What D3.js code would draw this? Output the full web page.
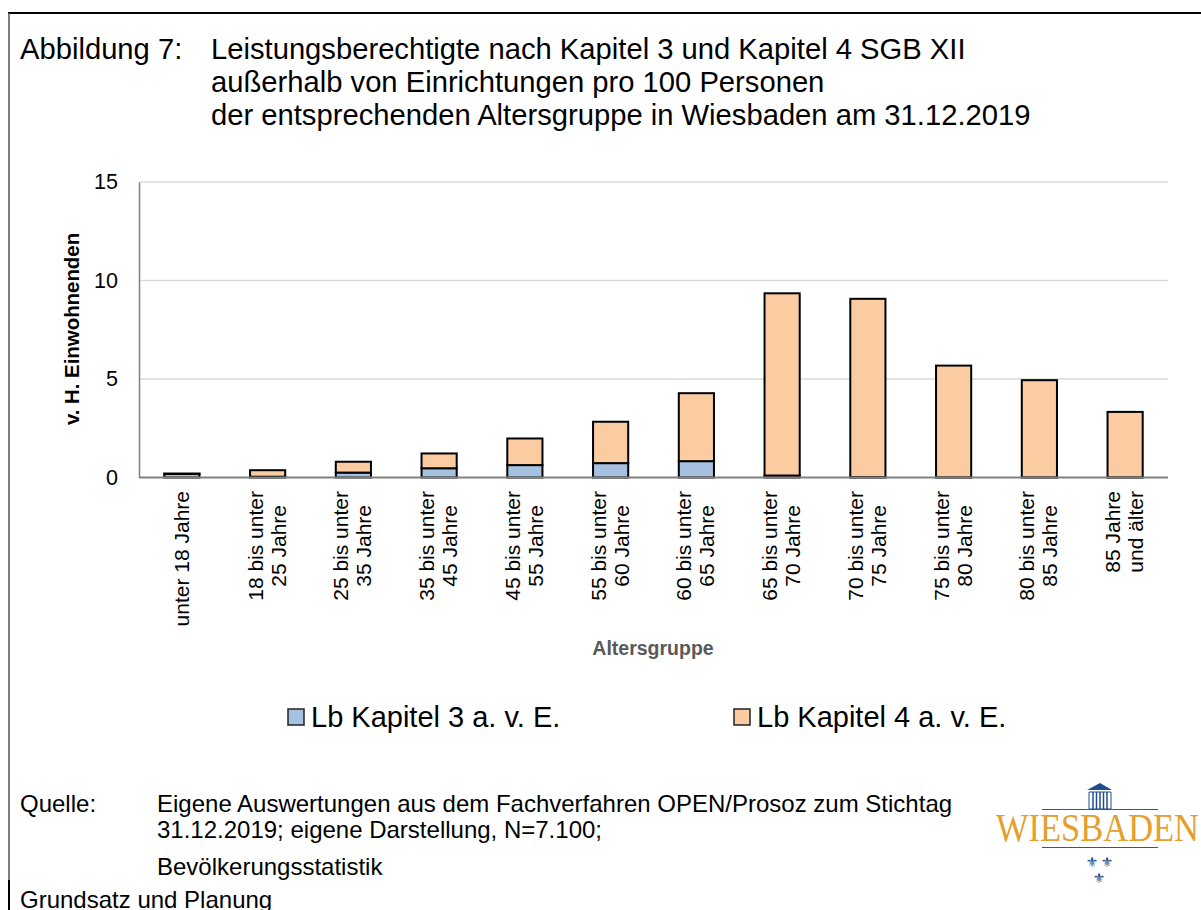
<!DOCTYPE html>
<html><head><meta charset="utf-8">
<script src="https://cdn.jsdelivr.net/npm/d3@7"></script>
<style>html,body{margin:0;background:#fff}svg{display:block}text{font-family:"Liberation Sans",Arial,sans-serif;fill:#000}</style>
</head><body><div id="c"></div>
<script>
const categories=[["unter 18 Jahre"],["18 bis unter","25 Jahre"],["25 bis unter","35 Jahre"],["35 bis unter","45 Jahre"],["45 bis unter","55 Jahre"],["55 bis unter","60 Jahre"],["60 bis unter","65 Jahre"],["65 bis unter","70 Jahre"],["70 bis unter","75 Jahre"],["75 bis unter","80 Jahre"],["80 bis unter","85 Jahre"],["85 Jahre","und älter"]];
const kapitel3=[0.18,0.04,0.25,0.47,0.63,0.73,0.83,0.1,0.02,0.01,0.01,0.01];
const kapitel4=[0.02,0.33,0.55,0.75,1.35,2.1,3.45,9.25,9.05,5.67,4.93,3.32];
const seriesNames=["Lb Kapitel 3 a. v. E.","Lb Kapitel 4 a. v. E."];
const colors=["#a6c0df","#fbcba2"];
const yTicks=[0,5,10,15];
const titleLines=["Leistungsberechtigte nach Kapitel 3 und Kapitel 4 SGB XII","außerhalb von Einrichtungen pro 100 Personen","der entsprechenden Altersgruppe in Wiesbaden am 31.12.2019"];

const svg=d3.select("#c").append("svg").attr("width",1201).attr("height",910);
// frame
svg.append("line").attr("x1",8).attr("x2",1201).attr("y1",13).attr("y2",13).attr("stroke","#000").attr("stroke-width",2);
svg.append("line").attr("x1",9).attr("x2",9).attr("y1",13).attr("y2",880).attr("stroke","#555").attr("stroke-width",1.5);
svg.append("line").attr("x1",9).attr("x2",9).attr("y1",880).attr("y2",910).attr("stroke","#000").attr("stroke-width",2);
// title
svg.append("text").attr("x",20).attr("y",59).attr("font-size",29.2).text("Abbildung 7:");
svg.selectAll(".t").data(titleLines).join("text").attr("x",211).attr("y",(d,i)=>59+i*33).attr("font-size",29.2).text(d=>d);

const x=d3.scaleBand().domain(d3.range(categories.length)).range([139,1168]).paddingInner(0.59).paddingOuter(0.295);
const y=d3.scaleLinear().domain([0,15]).range([477.5,182]);
// grid
svg.selectAll(".g").data(yTicks.filter(d=>d>0)).join("line").attr("x1",139).attr("x2",1168).attr("y1",d=>y(d)).attr("y2",d=>y(d)).attr("stroke","#d9d9d9").attr("stroke-width",1.5);
// y ticks labels
const yAxis=svg.append("g").attr("transform","translate(139,0)").call(d3.axisLeft(y).tickValues(yTicks).tickSize(0).tickPadding(21));
yAxis.select(".domain").attr("stroke","#808080").attr("stroke-width",1.5);
yAxis.selectAll("text").attr("font-size",21.5).style("font-family",'"Liberation Sans"');
// bars
kapitel3.forEach((v,i)=>{
  const t=v+kapitel4[i];
  svg.append("rect").attr("class","bar").attr("x",x(i)).attr("width",x.bandwidth()).attr("y",y(v)).attr("height",y(0)-y(v)).attr("fill",colors[0]).attr("stroke","#000").attr("stroke-width",2);
  svg.append("rect").attr("class","bar").attr("x",x(i)).attr("width",x.bandwidth()).attr("y",y(t)).attr("height",y(v)-y(t)).attr("fill",colors[1]).attr("stroke","#000").attr("stroke-width",2);
});
// x axis line
svg.append("line").attr("x1",139).attr("x2",1168).attr("y1",y(0)).attr("y2",y(0)).attr("stroke","#808080").attr("stroke-width",2);
// category labels: lines centred in a block whose end touches the axis gap
categories.forEach((c,i)=>{
  const cx=x(i)+x.bandwidth()/2;
  const g=svg.append("g");
  const ts=c.map(l=>g.append("text").attr("text-anchor","middle").attr("font-size",21).text(l));
  const w=d3.max(ts,t=>t.node().getComputedTextLength());
  const yc=491+w/2;
  ts.forEach((t,j)=>{
    const off=c.length===1?7:(j===0?-5:18);
    t.attr("transform",`translate(${cx+off},${yc}) rotate(-90)`);
  });
});
// axis titles
svg.append("text").attr("transform","translate(79,329) rotate(-90)").attr("text-anchor","middle").attr("font-size",20.4).attr("font-weight","bold").text("v. H. Einwohnenden");
svg.append("text").attr("x",653).attr("y",655).attr("text-anchor","middle").attr("font-size",19.5).attr("font-weight","bold").style("fill","#595959").text("Altersgruppe");
// legend
[[288,311],[734,757]].forEach((p,i)=>{
  svg.append("rect").attr("x",p[0]).attr("y",709).attr("width",16).attr("height",16).attr("fill",colors[i]).attr("stroke","#222").attr("stroke-width",1.5);
  svg.append("text").attr("x",p[1]).attr("y",727).attr("font-size",29).text(seriesNames[i]);
});
// source
const src=[[20,"Quelle:",812],[157,"Eigene Auswertungen aus dem Fachverfahren OPEN/Prosoz zum Stichtag",812],[157,"31.12.2019; eigene Darstellung, N=7.100;",838],[157,"Bevölkerungsstatistik",875],[20,"Grundsatz und Planung",908]];
src.forEach(s=>svg.append("text").attr("x",s[0]).attr("y",s[2]).attr("font-size",24).text(s[1]));
// logo
const logo=svg.append("g");
logo.append("path").attr("d","M1087,790L1100,783L1112,790Z").attr("fill","#1f4e8c");
logo.append("path").attr("d","M1089,792H1111V809H1089Z").attr("fill","none").attr("stroke","#1f4e8c");
d3.range(1093,1110,3.5).forEach(v=>logo.append("line").attr("x1",v).attr("x2",v).attr("y1",792).attr("y2",809).attr("stroke","#1f4e8c").attr("stroke-width",1.5));
logo.append("line").attr("x1",1042).attr("x2",1158).attr("y1",809.5).attr("y2",809.5).attr("stroke","#2a5a95");
logo.append("line").attr("x1",1042).attr("x2",1158).attr("y1",847.5).attr("y2",847.5).attr("stroke","#2a5a95");
logo.append("text").attr("x",996).attr("y",841).attr("font-size",39).attr("textLength",203).attr("lengthAdjust","spacingAndGlyphs").style("font-family",'"Liberation Serif"').style("fill","#e59f2c").text("WIESBADEN");
[[1092,867],[1107,867],[1099,883]].forEach(p=>logo.append("text").attr("x",p[0]).attr("y",p[1]).attr("text-anchor","middle").attr("font-size",14).style("font-family",'"DejaVu Sans"').style("fill","#1f4e8c").text("⚜"));
</script></body></html>
